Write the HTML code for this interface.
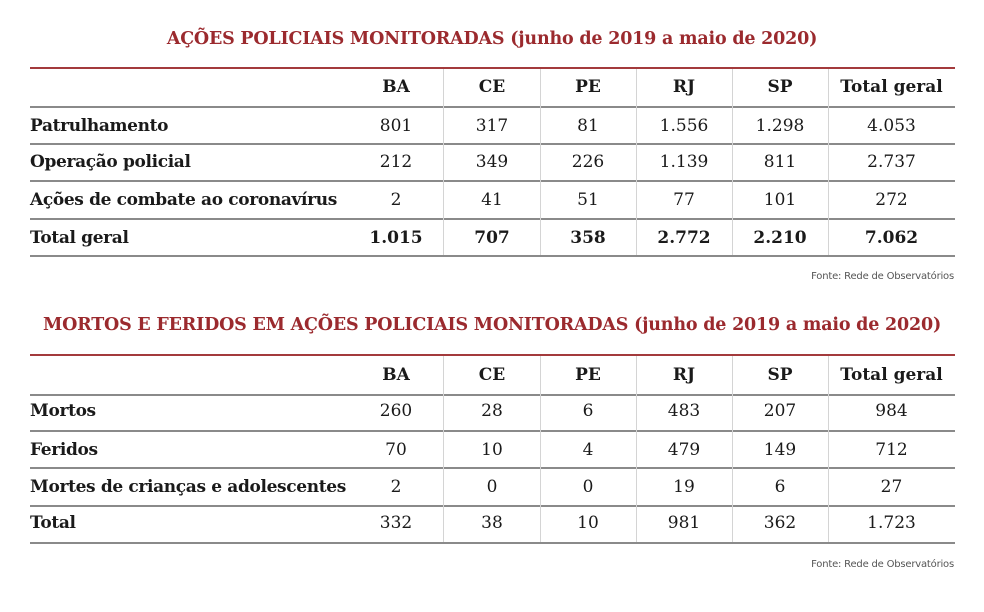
<!DOCTYPE html>
<html><head><meta charset="utf-8"><style>
body{margin:0;width:984px;height:612px;background:#fff;position:relative;overflow:hidden;font-family:"DejaVu Serif",serif;color:#1a1a1a}
.t{position:absolute;font-weight:bold;color:#9b2a2e;font-size:17.5px;white-space:nowrap;left:0;width:984px;text-align:center;letter-spacing:-0.2px}
.hl{position:absolute;left:30px;width:925px;height:2px;background:#8a8a8a}
.rl{position:absolute;left:30px;width:925px;height:2px;background:#a33a3c}
.vl{position:absolute;width:1px;background:#d4d4d4}
.row{position:absolute;left:30px;height:20px;font-size:17px;line-height:20px;white-space:nowrap}
.row span{position:absolute;text-align:center}
.row .l{left:0;text-align:left;font-weight:bold;font-size:17px;letter-spacing:-0.35px}
.b span{font-weight:bold}
.f{position:absolute;right:30px;font-family:"DejaVu Sans",sans-serif;font-size:10px;color:#555;letter-spacing:-0.2px}
</style></head><body>
<div class="t" style="top:29px;left:0">AÇÕES POLICIAIS MONITORADAS (junho de 2019 a maio de 2020)</div>
<div class="rl" style="top:67px"></div>
<div class="hl" style="top:106px"></div>
<div class="hl" style="top:143px"></div>
<div class="hl" style="top:180px"></div>
<div class="hl" style="top:218px"></div>
<div class="hl" style="top:255px"></div>
<div class="vl" style="left:443px;top:69px;height:186px"></div>
<div class="vl" style="left:540px;top:69px;height:186px"></div>
<div class="vl" style="left:636px;top:69px;height:186px"></div>
<div class="vl" style="left:732px;top:69px;height:186px"></div>
<div class="vl" style="left:828px;top:69px;height:186px"></div>
<div class="f" style="top:271px">Fonte: Rede de Observatórios</div>

<div class="t" style="top:315px">MORTOS E FERIDOS EM AÇÕES POLICIAIS MONITORADAS (junho de 2019 a maio de 2020)</div>
<div class="rl" style="top:354px"></div>
<div class="hl" style="top:394px"></div>
<div class="hl" style="top:430px"></div>
<div class="hl" style="top:467px"></div>
<div class="hl" style="top:505px"></div>
<div class="hl" style="top:542px"></div>
<div class="vl" style="left:443px;top:356px;height:186px"></div>
<div class="vl" style="left:540px;top:356px;height:186px"></div>
<div class="vl" style="left:636px;top:356px;height:186px"></div>
<div class="vl" style="left:732px;top:356px;height:186px"></div>
<div class="vl" style="left:828px;top:356px;height:186px"></div>
<div class="f" style="top:559px">Fonte: Rede de Observatórios</div>

<div class="row b" style="top:77px"><span style="left:318px;width:96px">BA</span><span style="left:414px;width:96px">CE</span><span style="left:510px;width:96px">PE</span><span style="left:606px;width:96px">RJ</span><span style="left:702px;width:96px">SP</span><span style="left:798px;width:127px">Total geral</span></div>
<div class="row" style="top:116px"><span class="l">Patrulhamento</span><span style="left:318px;width:96px">801</span><span style="left:414px;width:96px">317</span><span style="left:510px;width:96px">81</span><span style="left:606px;width:96px">1.556</span><span style="left:702px;width:96px">1.298</span><span style="left:798px;width:127px">4.053</span></div>
<div class="row" style="top:152px"><span class="l">Operação policial</span><span style="left:318px;width:96px">212</span><span style="left:414px;width:96px">349</span><span style="left:510px;width:96px">226</span><span style="left:606px;width:96px">1.139</span><span style="left:702px;width:96px">811</span><span style="left:798px;width:127px">2.737</span></div>
<div class="row" style="top:190px"><span class="l">Ações de combate ao coronavírus</span><span style="left:318px;width:96px">2</span><span style="left:414px;width:96px">41</span><span style="left:510px;width:96px">51</span><span style="left:606px;width:96px">77</span><span style="left:702px;width:96px">101</span><span style="left:798px;width:127px">272</span></div>
<div class="row b" style="top:228px"><span class="l">Total geral</span><span style="left:318px;width:96px">1.015</span><span style="left:414px;width:96px">707</span><span style="left:510px;width:96px">358</span><span style="left:606px;width:96px">2.772</span><span style="left:702px;width:96px">2.210</span><span style="left:798px;width:127px">7.062</span></div>

<div class="row b" style="top:365px"><span style="left:318px;width:96px">BA</span><span style="left:414px;width:96px">CE</span><span style="left:510px;width:96px">PE</span><span style="left:606px;width:96px">RJ</span><span style="left:702px;width:96px">SP</span><span style="left:798px;width:127px">Total geral</span></div>
<div class="row" style="top:401px"><span class="l">Mortos</span><span style="left:318px;width:96px">260</span><span style="left:414px;width:96px">28</span><span style="left:510px;width:96px">6</span><span style="left:606px;width:96px">483</span><span style="left:702px;width:96px">207</span><span style="left:798px;width:127px">984</span></div>
<div class="row" style="top:440px"><span class="l">Feridos</span><span style="left:318px;width:96px">70</span><span style="left:414px;width:96px">10</span><span style="left:510px;width:96px">4</span><span style="left:606px;width:96px">479</span><span style="left:702px;width:96px">149</span><span style="left:798px;width:127px">712</span></div>
<div class="row" style="top:477px"><span class="l">Mortes de crianças e adolescentes</span><span style="left:318px;width:96px">2</span><span style="left:414px;width:96px">0</span><span style="left:510px;width:96px">0</span><span style="left:606px;width:96px">19</span><span style="left:702px;width:96px">6</span><span style="left:798px;width:127px">27</span></div>
<div class="row" style="top:513px"><span class="l">Total</span><span style="left:318px;width:96px">332</span><span style="left:414px;width:96px">38</span><span style="left:510px;width:96px">10</span><span style="left:606px;width:96px">981</span><span style="left:702px;width:96px">362</span><span style="left:798px;width:127px">1.723</span></div>
</body></html>
